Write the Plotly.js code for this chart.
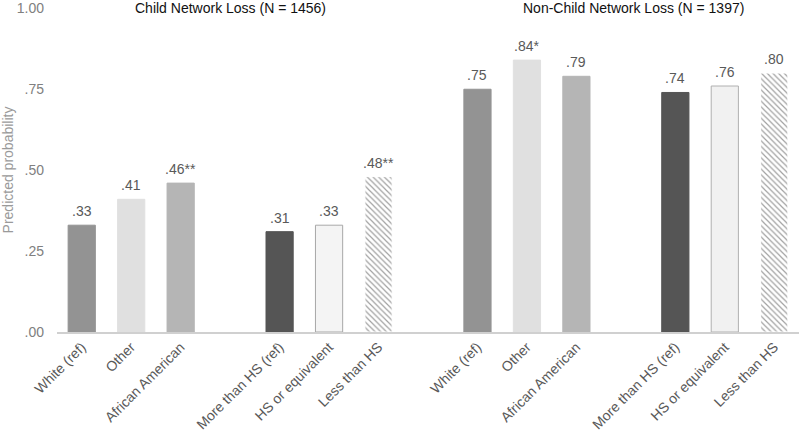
<!DOCTYPE html>
<html>
<head>
<meta charset="utf-8">
<script src="https://cdn.plot.ly/plotly-3.0.1.min.js"></script>
<style>html,body{margin:0;padding:0;background:#fff;}#chart{width:800px;height:434px;}</style>
</head>
<body>
<div id="chart"></div>
<script>
// Data
const categories = ["White (ref)", "Other", "African American", "More than HS (ref)", "HS or equivalent", "Less than HS"];
const panelTitles = ["Child Network Loss (N = 1456)", "Non-Child Network Loss (N = 1397)"];
const childValues = [0.33, 0.41, 0.46, 0.31, 0.33, 0.48];
const childSig = ["", "", "**", "", "", "**"];
const nonChildValues = [0.75, 0.84, 0.79, 0.74, 0.76, 0.80];
const nonChildSig = ["", "*", "", "", "", ""];
const yTickVals = [0, 0.25, 0.5, 0.75, 1.0];
const yTickText = [".00", ".25", ".50", ".75", "1.00"];

// Styles
const fillChild = ["#939393", "#e0e0e0", "#b5b5b5", "#555555", "#f4f4f4", "#ffffff"];
const fillNonChild = ["#939393", "#e0e0e0", "#b5b5b5", "#555555", "#f1f1f1", "#ffffff"];
const lineChild = ["#939393", "#e0e0e0", "#b5b5b5", "#555555", "#a8a8a8", "#ffffff"];
const lineNonChild = ["#939393", "#e0e0e0", "#b5b5b5", "#555555", "#b0b0b0", "#ffffff"];
const patChild = ["", "", "", "", "", "\\"];
const patNonChild = ["", "", "", "", "", "\\"];
const patFgChild = ["#000000", "#000000", "#000000", "#000000", "#000000", "#5a5a5a"];
const patFgNonChild = ["#000000", "#000000", "#000000", "#000000", "#000000", "#c4c4c4"];
const FONT = "Liberation Sans, Arial, sans-serif";

function fmt(v) { return v.toFixed(2).replace(/^0/, ""); }

// positions: 3 bars per group, gap slot between groups
function pos(panel, i) { return panel * 8 + Math.floor(i / 3) * 4 + (i % 3); }

const xChild = categories.map((c, i) => pos(0, i));
const xNon = categories.map((c, i) => pos(1, i));

function trace(x, vals, fill, line, pat, patFg) {
  return {
    type: "bar",
    x: x,
    y: vals,
    width: 0.55,
    marker: {
      color: fill,
      line: {color: line, width: 1},
      pattern: {shape: pat, fgcolor: patFg, bgcolor: fill, size: 4, solidity: 0.3, fillmode: "overlay"}
    },
    hoverinfo: "none",
    showlegend: false
  };
}

const data = [
  trace(xChild, childValues, fillChild, lineChild, patChild, patFgChild),
  trace(xNon, nonChildValues, fillNonChild, lineNonChild, patNonChild, patFgNonChild)
];

function labels(x, vals, sig) {
  return vals.map((v, i) => ({
    text: fmt(v) + sig[i], x: x[i], y: v, xref: "x", yref: "y",
    showarrow: false, yanchor: "bottom", yshift: 4,
    font: {size: 14, color: "#595959", family: FONT}
  }));
}

const layout = {
  width: 800, height: 434,
  margin: {l: 57, r: 1, t: 8, b: 102},
  paper_bgcolor: "#fff", plot_bgcolor: "#fff",
  font: {family: FONT, color: "#595959", size: 14},
  bargap: 0,
  xaxis: {
    range: [-0.5, 14.5],
    tickvals: xChild.concat(xNon),
    ticktext: categories.concat(categories),
    tickangle: -45,
    tickfont: {size: 14, color: "#595959"},
    showgrid: false, zeroline: false,
    showline: true, linecolor: "#d0d0d0", linewidth: 1.5,
    ticks: "", fixedrange: true
  },
  yaxis: {
    range: [0, 1.001],
    tickvals: yTickVals, ticktext: yTickText,
    tickfont: {size: 14, color: "#808080"},
    ticklabelstandoff: 12,
    showgrid: false, zeroline: false, showline: false, ticks: "",
    title: {text: "Predicted probability", font: {size: 14, color: "#9a9a9a"}, standoff: 2},
    fixedrange: true
  },
  annotations: panelTitles.map((t, p) => ({
    text: t, x: pos(p, 3) - 1 + p * 0.15, y: 1.0, xref: "x", yref: "y",
    showarrow: false, yanchor: "middle",
    font: {size: 14, color: "#111"}
  })).concat(labels(xChild, childValues, childSig), labels(xNon, nonChildValues, nonChildSig))
};

Plotly.newPlot("chart", data, layout, {displayModeBar: false, staticPlot: true});
</script>
</body>
</html>
